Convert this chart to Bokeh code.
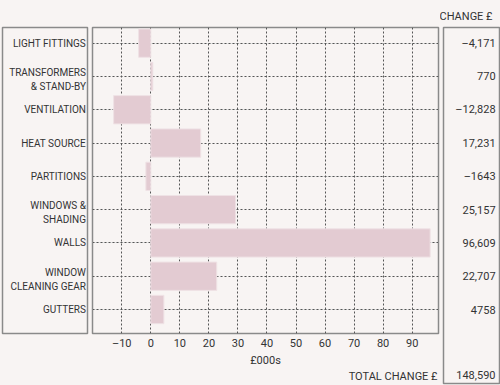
from bokeh.plotting import figure
from bokeh.layouts import row
from bokeh.models import Range1d, FixedTicker, Title, Label, Grid, ColumnDataSource
from bokeh.core.properties import value
from bokeh.embed import file_html
from bokeh.resources import INLINE

# ---- data ----
categories = ["LIGHT FITTINGS", "TRANSFORMERS\n& STAND-BY", "VENTILATION", "HEAT SOURCE",
              "PARTITIONS", "WINDOWS &\nSHADING", "WALLS", "WINDOW\nCLEANING GEAR", "GUTTERS"]
# bar lengths as drawn in the chart (£000s)
bar_k = [-4.2, 0.7, -12.8, 17.2, -1.7, 29.2, 96.2, 22.7, 4.5]
# change values printed in the right-hand column (£)
change_gbp = [-4171, 770, -12828, 17231, -1643, 25157, 96609, 22707, 4758]
change_labels = ["\u20134,171", "770", "\u201312,828", "17,231", "\u20131643",
                 "25,157", "96,609", "22,707", "4758"]
x_ticks = [-10, 0, 10, 20, 30, 40, 50, 60, 70, 80, 90]
x_tick_labels = ["\u201310", "0", "10", "20", "30", "40", "50", "60", "70", "80", "90"]
axis_label = "\u00a3000s"
header_label = "CHANGE \u00a3"
total_text = "TOTAL CHANGE \u00a3"

total = sum(change_gbp)
rows = list(range(len(categories)))

BG = "#f8f4f3"
TXT = "#333333"
BOX = "#8a8a8a"
FONT = "Roboto"

src = ColumnDataSource(dict(row=rows, cat=categories, k=bar_k, lab=change_labels,
                            dy=[3 if "\n" in c else 0 for c in categories]))
Y_MAIN = (8.72, -0.47)

def base(**kw):
    p = figure(toolbar_location=None, output_backend="svg",
               x_axis_location=None, y_axis_location=None, **kw)
    p.background_fill_color = BG
    p.border_fill_color = BG
    p.outline_line_color = BOX
    p.outline_line_width = 1.5
    p.xgrid.visible = False
    p.ygrid.visible = False
    return p

# ---- left label box ----
L = base(frame_width=85, frame_height=306, min_border_left=2, min_border_right=2,
         min_border_top=27, min_border_bottom=52,
         x_range=Range1d(0, 1), y_range=Range1d(*Y_MAIN))
L.text(x=0.982, y="row", text="cat", source=src, y_offset="dy",
       text_align="right", text_baseline="middle",
       text_font=value(FONT), text_font_size="10px", text_color=TXT, text_line_height=1.3)

# ---- main chart ----
M = figure(toolbar_location=None, output_backend="svg",
           frame_width=346, frame_height=306, min_border_left=3, min_border_right=2,
           min_border_top=27, min_border_bottom=52, y_axis_location=None,
           x_range=Range1d(-20.08, 99.07), y_range=Range1d(*Y_MAIN))
M.background_fill_color = BG
M.border_fill_color = BG
M.outline_line_color = BOX
M.outline_line_width = 1.5
M.xgrid.visible = False
for dim, ticks in ((0, x_ticks), (1, rows)):
    g = Grid(dimension=dim, ticker=FixedTicker(ticks=ticks), grid_line_color="#555555",
             grid_line_dash="2 2", grid_line_width=1)
    M.add_layout(g)
M.hbar(y="row", left=0, right="k", height=0.85, source=src,
       fill_color="#e3cbd2", line_color="#efe2e5", line_width=1)
ax = M.xaxis[0]
ax.ticker = FixedTicker(ticks=x_ticks)
ax.major_label_overrides = {t: s for t, s in zip(x_ticks, x_tick_labels)}
ax.axis_line_color = None
ax.major_tick_line_color = None
ax.minor_tick_line_color = None
ax.major_tick_out = 0
ax.major_tick_in = 0
ax.minor_tick_out = 0
ax.major_label_standoff = 3
ax.major_label_text_font = FONT
ax.major_label_text_font_size = "11px"
ax.major_label_text_color = TXT
ax.axis_label = axis_label
ax.axis_label_standoff = 1
ax.axis_label_text_font = FONT
ax.axis_label_text_font_size = "11px"
ax.axis_label_text_font_style = "normal"
ax.axis_label_text_color = TXT
M.add_layout(Title(text=total_text, align="right", text_font=FONT, text_font_size="11px",
                   text_font_style="normal", text_color=TXT, standoff=-3, offset=1), "below")

# ---- right value box ----
R = base(frame_width=56, frame_height=356, min_border_left=3, min_border_right=1,
         min_border_top=27, min_border_bottom=2,
         x_range=Range1d(0, 1), y_range=Range1d(10.22, -0.47))
R.text(x=0.93, y="row", text="lab", source=src, text_align="right", text_baseline="middle",
       text_font=value(FONT), text_font_size="11px", text_color=TXT)
R.add_layout(Label(x=52, y=9, x_units="screen", y_units="screen", text=f"{total:,}",
                   text_align="right", text_baseline="middle", text_font=FONT,
                   text_font_size="11px", text_color=TXT))
R.add_layout(Title(text=header_label, align="right", text_font=FONT, text_font_size="11px",
                   text_font_style="normal", text_color=TXT, standoff=10, offset=7), "above")

layout = row(L, M, R, spacing=0)
layout.styles = {"background-color": BG}
open("out.html", "w").write(file_html(layout, INLINE))
